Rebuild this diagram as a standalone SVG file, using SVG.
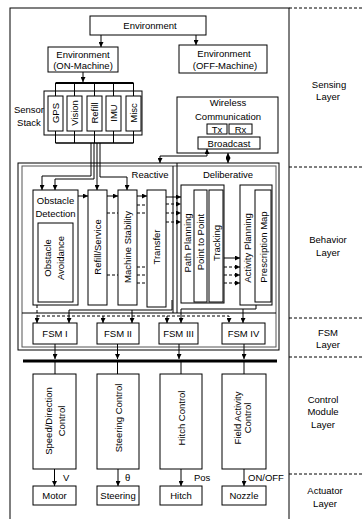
<svg xmlns="http://www.w3.org/2000/svg" width="362" height="519" viewBox="0 0 362 519">
<defs>
<style>
.t{font-family:"Liberation Sans",Arial,sans-serif;font-size:9.5px;fill:#000;text-anchor:middle}
.ts{font-family:"Liberation Sans",Arial,sans-serif;font-size:9.5px;fill:#000}
.b{fill:#fff;stroke:#000;stroke-width:1}
.f{fill:none;stroke:#000;stroke-width:1}
.g{fill:none;stroke:#555;stroke-width:1}
.l{fill:none;stroke:#000;stroke-width:1}
.d{fill:none;stroke:#000;stroke-width:1;stroke-dasharray:3,2}
.ld{fill:none;stroke:#000;stroke-width:1;stroke-dasharray:3,2}
.a{marker-end:url(#ah)}
.s{marker-start:url(#ah)}
</style>
<marker id="ah" viewBox="0 0 10 10" refX="10" refY="5" markerWidth="5" markerHeight="5" markerUnits="userSpaceOnUse" orient="auto-start-reverse">
<path d="M0,0 L10,5 L0,10 z" fill="#000"/>
</marker>
</defs>
<rect width="362" height="519" fill="#fff"/>

<g id="frames">
<rect x="10" y="8" width="279" height="520" class="f"/>
<line x1="289" y1="8" x2="362" y2="8" class="ld"/>
<line x1="289" y1="167" x2="362" y2="167" class="ld"/>
<line x1="289" y1="318" x2="362" y2="318" class="ld"/>
<line x1="289" y1="357" x2="362" y2="357" class="ld"/>
<line x1="289" y1="474" x2="362" y2="474" class="ld"/>
<rect x="18" y="163" width="261" height="187" class="f"/>
<rect x="22" y="166" width="254" height="181" class="g"/>
<line x1="173" y1="166" x2="173" y2="313" class="f"/>
<line x1="177" y1="163" x2="177" y2="313" class="f"/>
<line x1="22" y1="313" x2="276" y2="313" class="f"/>
</g>

<g id="layer-labels">
<text class="t" x="329" y="88">Sensing</text>
<text class="t" x="328" y="100">Layer</text>
<text class="t" x="328" y="243">Behavior</text>
<text class="t" x="328" y="256">Layer</text>
<text class="t" x="328" y="336">FSM</text>
<text class="t" x="328" y="348">Layer</text>
<text class="t" x="323" y="403">Control</text>
<text class="t" x="323" y="415">Module</text>
<text class="t" x="323" y="428">Layer</text>
<text class="t" x="325" y="494">Actuator</text>
<text class="t" x="325" y="507">Layer</text>
</g>

<g id="connectors">
<path d="M101,35 L101,47" class="l a"/>
<path d="M196,35 L196,45" class="l a"/>
<path d="M83,72 L83,82" class="l a"/>
<path d="M55.5,83 L133.5,83" fill="none" stroke="#000" stroke-width="2"/>
<path d="M55.5,83 V96 M74.5,83 V96 M94.5,83 V96 M113.5,83 V96 M133.5,83 V96" class="l"/>
<path d="M55.5,131 V143 M74.5,131 V143 M94.5,131 V143 M113.5,131 V143 M133.5,131 V143" class="l"/>
<path d="M55.5,143 L133.5,143" fill="none" stroke="#000" stroke-width="1.5"/>
<path d="M91,143 L91,176 L42,176 L42,190" class="l a"/>
<path d="M94,143 L94,179 L55,179 L55,190" class="l a"/>
<path d="M97,143 L97,190" class="l a"/>
<path d="M100,143 L100,177 L127,177 L127,190" class="l a"/>
<path d="M207,149 L207,156 L160,156 L160,163" class="l a s"/>
<path d="M228,153 L228,163" class="l a s"/>
<path d="M78,196 L88,196" class="l a"/>
<path d="M107,196 L118,196" class="l a"/>
<path d="M137,196 L147,196" class="l a"/>
<path d="M107,213 H118 M107,275 H118" class="d"/>
<path d="M137,205 H147 M137,213 H147 M137,267 H147 M137,275 H147 M137,283 H147" class="d"/>
<path d="M166,197 L181,197" class="l a"/>
<path d="M166,204 L181,204" class="d a"/>
<path d="M166,213 L181,213" class="d a"/>
<path d="M166,222 L181,222" class="d a"/>
<path d="M224,258 L240,258" class="l a"/>
<path d="M224,267 L240,267" class="d a"/>
<path d="M224,275 L240,275" class="d a"/>
<path d="M224,283 L240,283" class="d a"/>
<path d="M37,305 L37,323" class="d a"/>
<path d="M37,316 L229,316 L229,323" class="d a"/>
<path d="M103,316 L103,323" class="d a"/>
<path d="M167,316 L167,323" class="d a"/>
<path d="M172,300 L172,310 L69,310 L69,323" class="l a"/>
<path d="M132,310 L132,323" class="l a"/>
<path d="M256,305 L256,309 L181,309 L181,323" class="l a"/>
<path d="M243,309 L243,323" class="l a"/>
<path d="M55,344 L55,359" class="l a"/>
<path d="M117.5,344 L117.5,359" class="l a"/>
<path d="M179,344 L179,359" class="l a"/>
<path d="M244,344 L244,359" class="l a"/>
<path d="M23,361 L277,361" fill="none" stroke="#000" stroke-width="3"/>
<path d="M55,362 V374 M117.5,362 V374 M181,362 V374 M244,362 V374" class="l"/>
<path d="M54.5,469 L54.5,486" class="l a"/>
<path d="M118,469 L118,486" class="l a"/>
<path d="M181,469 L181,486" class="l a"/>
<path d="M244,469 L244,486" class="l a"/>
<text class="ts" x="63" y="481">V</text>
<text class="ts" x="125" y="481">θ</text>
<text class="ts" x="194" y="481">Pos</text>
<text class="ts" x="248" y="481">ON/OFF</text>
</g>

<g id="environment">
<rect x="90" y="16" width="116" height="19" class="b"/>
<text class="t" x="150" y="29">Environment</text>
</g>
<g id="env-on">
<rect x="48" y="47" width="70" height="25" class="b"/>
<text class="t" x="83" y="57.5">Environment</text>
<text class="t" x="83" y="69">(ON-Machine)</text>
</g>
<g id="env-off">
<rect x="179" y="45" width="88" height="28" class="b"/>
<text class="t" x="224" y="57">Environment</text>
<text class="t" x="225" y="69">(OFF-Machine)</text>
</g>

<g id="sensor-stack">
<rect x="44" y="91" width="98" height="44" class="f"/>
<text class="t" x="29" y="113">Sensor</text>
<text class="t" x="29" y="126">Stack</text>
</g>
<g id="gps"><rect x="48" y="96" width="15" height="35" class="b"/><text class="t" transform="translate(59,113) rotate(-90)">GPS</text></g>
<g id="vision"><rect x="67" y="96" width="15" height="35" class="b"/><text class="t" transform="translate(78,113) rotate(-90)">Vision</text></g>
<g id="refill"><rect x="87" y="96" width="15" height="35" class="b"/><text class="t" transform="translate(98,113) rotate(-90)">Refill</text></g>
<g id="imu"><rect x="106" y="96" width="15" height="35" class="b"/><text class="t" transform="translate(117,113) rotate(-90)">IMU</text></g>
<g id="misc"><rect x="126" y="96" width="15" height="35" class="b"/><text class="t" transform="translate(137,113) rotate(-90)">Misc</text></g>

<g id="wireless">
<rect x="177" y="97" width="101" height="56" class="f"/>
<text class="t" x="228" y="106">Wireless</text>
<text class="t" x="228" y="120">Communication</text>
</g>
<g id="tx"><rect x="207" y="124" width="20" height="10" class="b"/><text class="t" x="217" y="132.5">Tx</text></g>
<g id="rx"><rect x="229" y="124" width="23" height="10" class="b"/><text class="t" x="240.5" y="132.5">Rx</text></g>
<g id="broadcast"><rect x="198" y="137" width="62" height="12" class="b"/><text class="t" x="229" y="146.5">Broadcast</text></g>

<g id="reactive"><text class="t" x="150" y="178">Reactive</text></g>
<g id="deliberative"><text class="t" x="228" y="178">Deliberative</text></g>

<g id="obstacle-detection">
<rect x="33" y="190" width="45" height="115" class="b"/>
<text class="t" x="55.5" y="204">Obstacle</text>
<text class="t" x="55.5" y="217">Detection</text>
</g>
<g id="obstacle-avoidance">
<rect x="38" y="223" width="35" height="79" class="b"/>
<text class="t" transform="translate(51,258) rotate(-90)">Obstacle</text>
<text class="t" transform="translate(63.5,258) rotate(-90)">Avoidance</text>
</g>
<g id="refill-service"><rect x="88" y="190" width="19" height="115" class="b"/><text class="t" transform="translate(101,247) rotate(-90)">Refill/Service</text></g>
<g id="machine-stability"><rect x="118" y="190" width="19" height="115" class="b"/><text class="t" transform="translate(131,247) rotate(-90)">Machine Stability</text></g>
<g id="transfer"><rect x="147" y="190" width="19" height="117" class="b"/><text class="t" transform="translate(160,247) rotate(-90)">Transfer</text></g>

<g id="path-planning"><rect x="181" y="185" width="43" height="118" class="b"/><text class="t" transform="translate(190.5,243) rotate(-90)">Path Planning</text></g>
<g id="point-to-point"><rect x="194" y="190" width="13" height="112" class="b"/><text class="t" transform="translate(204,242) rotate(-90)">Point to Point</text></g>
<g id="tracking"><rect x="209" y="190" width="14" height="112" class="b"/><text class="t" transform="translate(219.5,243) rotate(-90)">Tracking</text></g>
<g id="activity-planning"><rect x="240" y="185" width="32" height="120" class="b"/><text class="t" transform="translate(250.5,248) rotate(-90)">Activity Planning</text></g>
<g id="prescription-map"><rect x="255" y="190" width="16" height="112" class="b"/><text class="t" transform="translate(266.5,247) rotate(-90)">Prescription Map</text></g>

<g id="fsm1"><rect x="33" y="323" width="44" height="21" class="b"/><text class="t" x="55" y="337">FSM I</text></g>
<g id="fsm2"><rect x="97" y="323" width="42" height="21" class="b"/><text class="t" x="118" y="337">FSM II</text></g>
<g id="fsm3"><rect x="159" y="323" width="39" height="21" class="b"/><text class="t" x="178.5" y="337">FSM III</text></g>
<g id="fsm4"><rect x="222" y="323" width="43" height="21" class="b"/><text class="t" x="243.5" y="337">FSM IV</text></g>

<g id="speed-control"><rect x="33" y="374" width="43" height="95" class="b"/><text class="t" transform="translate(51.5,421) rotate(-90)">Speed/Direction</text><text class="t" transform="translate(64.5,421) rotate(-90)">Control</text></g>
<g id="steering-control"><rect x="97" y="374" width="42" height="95" class="b"/><text class="t" transform="translate(121.5,418) rotate(-90)">Steering Control</text></g>
<g id="hitch-control"><rect x="160" y="374" width="42" height="95" class="b"/><text class="t" transform="translate(185,418) rotate(-90)">Hitch Control</text></g>
<g id="field-control"><rect x="222" y="374" width="44" height="95" class="b"/><text class="t" transform="translate(240.5,418) rotate(-90)">Field Activity</text><text class="t" transform="translate(251,418) rotate(-90)">Control</text></g>

<g id="motor"><rect x="33" y="486" width="43" height="19" class="b"/><text class="t" x="54.5" y="499">Motor</text></g>
<g id="steering"><rect x="97" y="486" width="42" height="19" class="b"/><text class="t" x="118" y="499">Steering</text></g>
<g id="hitch"><rect x="160" y="486" width="42" height="19" class="b"/><text class="t" x="181" y="499">Hitch</text></g>
<g id="nozzle"><rect x="222" y="486" width="44" height="19" class="b"/><text class="t" x="244" y="499">Nozzle</text></g>
</svg>
